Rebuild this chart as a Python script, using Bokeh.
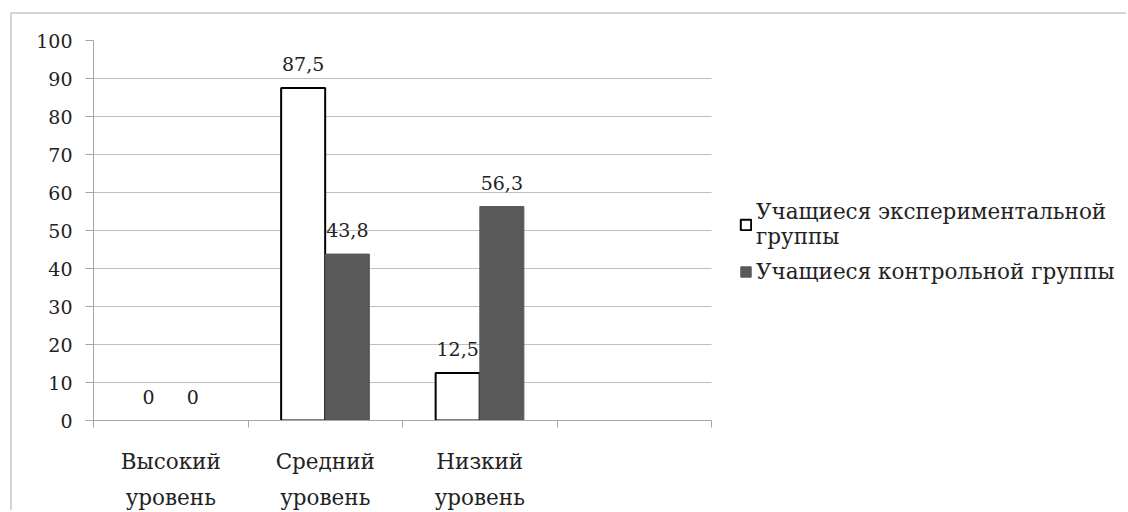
from bokeh.plotting import figure
from bokeh.models import (ColumnDataSource, FixedTicker, Legend, LegendItem, Range1d)
from bokeh.core.properties import value
from bokeh.embed import file_html
from bokeh.resources import INLINE
import numpy as np

categories = ["Высокий\nуровень", "Средний\nуровень", "Низкий\nуровень", ""]
experimental = [0, 87.5, 12.5]
control = [0, 43.8, 56.3]
series_names = ["Учащиеся экспериментальной\nгруппы", "Учащиеся контрольной группы"]
y_ticks = list(range(0, 101, 10))

FONT = "DejaVu Serif"
FS_NUM = "19px"
FS_CAT = "21.5px"
FS_LEG = "21.5px"

n = len(categories)
centers = np.arange(len(experimental)) + 0.5
off = 0.143
bw = 0.285

# layout constants (pixels)
W, H = 1116, 498
LEFT = 81
AXIS_PX = 618          # width of the category axis
frame_px = W - LEFT


def make_source(vals, x):
    return ColumnDataSource(dict(
        x=x, top=vals,
        lab=[f"{v:g}".replace(".", ",") for v in vals],
        la=[1.0 if v > 0 else 0.0 for v in vals]))


src_e = make_source(experimental, centers - off)
src_c = make_source(control, centers + off)

p = figure(width=W, height=H, output_backend="svg", toolbar_location=None,
           x_range=Range1d(0, n * frame_px / AXIS_PX), y_range=Range1d(0, 100),
           min_border_left=LEFT, min_border_top=26, min_border_bottom=89,
           min_border_right=0)
p.margin = (12, 0, 0, 10)
p.styles = {"border-top": "2px solid #d4d4d4", "border-left": "2px solid #d4d4d4"}
p.outline_line_color = None
p.background_fill_color = "white"
p.border_fill_color = "white"

r_e = p.vbar(x="x", top="top", width=bw, source=src_e, fill_color="white",
             line_color="black", line_width=2, line_alpha="la")
r_c = p.vbar(x="x", top="top", width=bw, source=src_c, fill_color="#595959",
             line_color="#595959", line_width=1, line_alpha="la")

for src in (src_e, src_c):
    p.text(x="x", y="top", text="lab", source=src, text_align="center",
           text_baseline="bottom", y_offset=-17, text_font=value(FONT),
           text_font_size=FS_NUM, text_color="#222222")

p.xgrid.visible = False
p.ygrid.ticker = FixedTicker(ticks=y_ticks)
p.ygrid.grid_line_color = "#bfbfbf"
p.ygrid.grid_line_width = 1
p.ygrid.cross_bounds = (0, n)

p.yaxis.ticker = FixedTicker(ticks=y_ticks)
p.yaxis.axis_line_color = "#a6a6a6"
p.yaxis.major_tick_line_color = "#a6a6a6"
p.yaxis.major_tick_out = 8
p.yaxis.major_tick_in = 0
p.yaxis.minor_tick_line_color = None
p.yaxis.major_label_text_font = FONT
p.yaxis.major_label_text_font_size = FS_NUM
p.yaxis.major_label_text_color = "#222222"
p.yaxis.major_label_standoff = 13

p.xaxis.bounds = (0, n)
p.xaxis.ticker = FixedTicker(ticks=list(np.arange(n) + 0.5),
                             minor_ticks=list(range(n + 1)))
p.xaxis.major_label_overrides = {float(i + 0.5): c for i, c in enumerate(categories)}
p.xaxis.major_tick_line_color = None
p.xaxis.minor_tick_line_color = "#a6a6a6"
p.xaxis.minor_tick_out = 7
p.xaxis.minor_tick_in = 0
p.xaxis.axis_line_color = "#a6a6a6"
p.xaxis.major_label_text_font = FONT
p.xaxis.major_label_text_font_size = FS_CAT
p.xaxis.major_label_text_color = "#222222"
p.xaxis.major_label_standoff = 21
p.xaxis.major_label_text_line_height = 1.45

legend = Legend(items=[LegendItem(label=series_names[0], renderers=[r_e], index=1),
                       LegendItem(label=series_names[1], renderers=[r_c], index=1)],
                location=(646, 136), label_text_font=FONT, label_text_font_size=FS_LEG,
                label_text_color="#222222", border_line_color=None,
                background_fill_alpha=0, padding=0, margin=0, spacing=10,
                glyph_width=13, glyph_height=13, label_standoff=4,
                label_text_line_height=1.6)
p.add_layout(legend, "center")

open("out.html", "w").write(file_html(p, INLINE))
